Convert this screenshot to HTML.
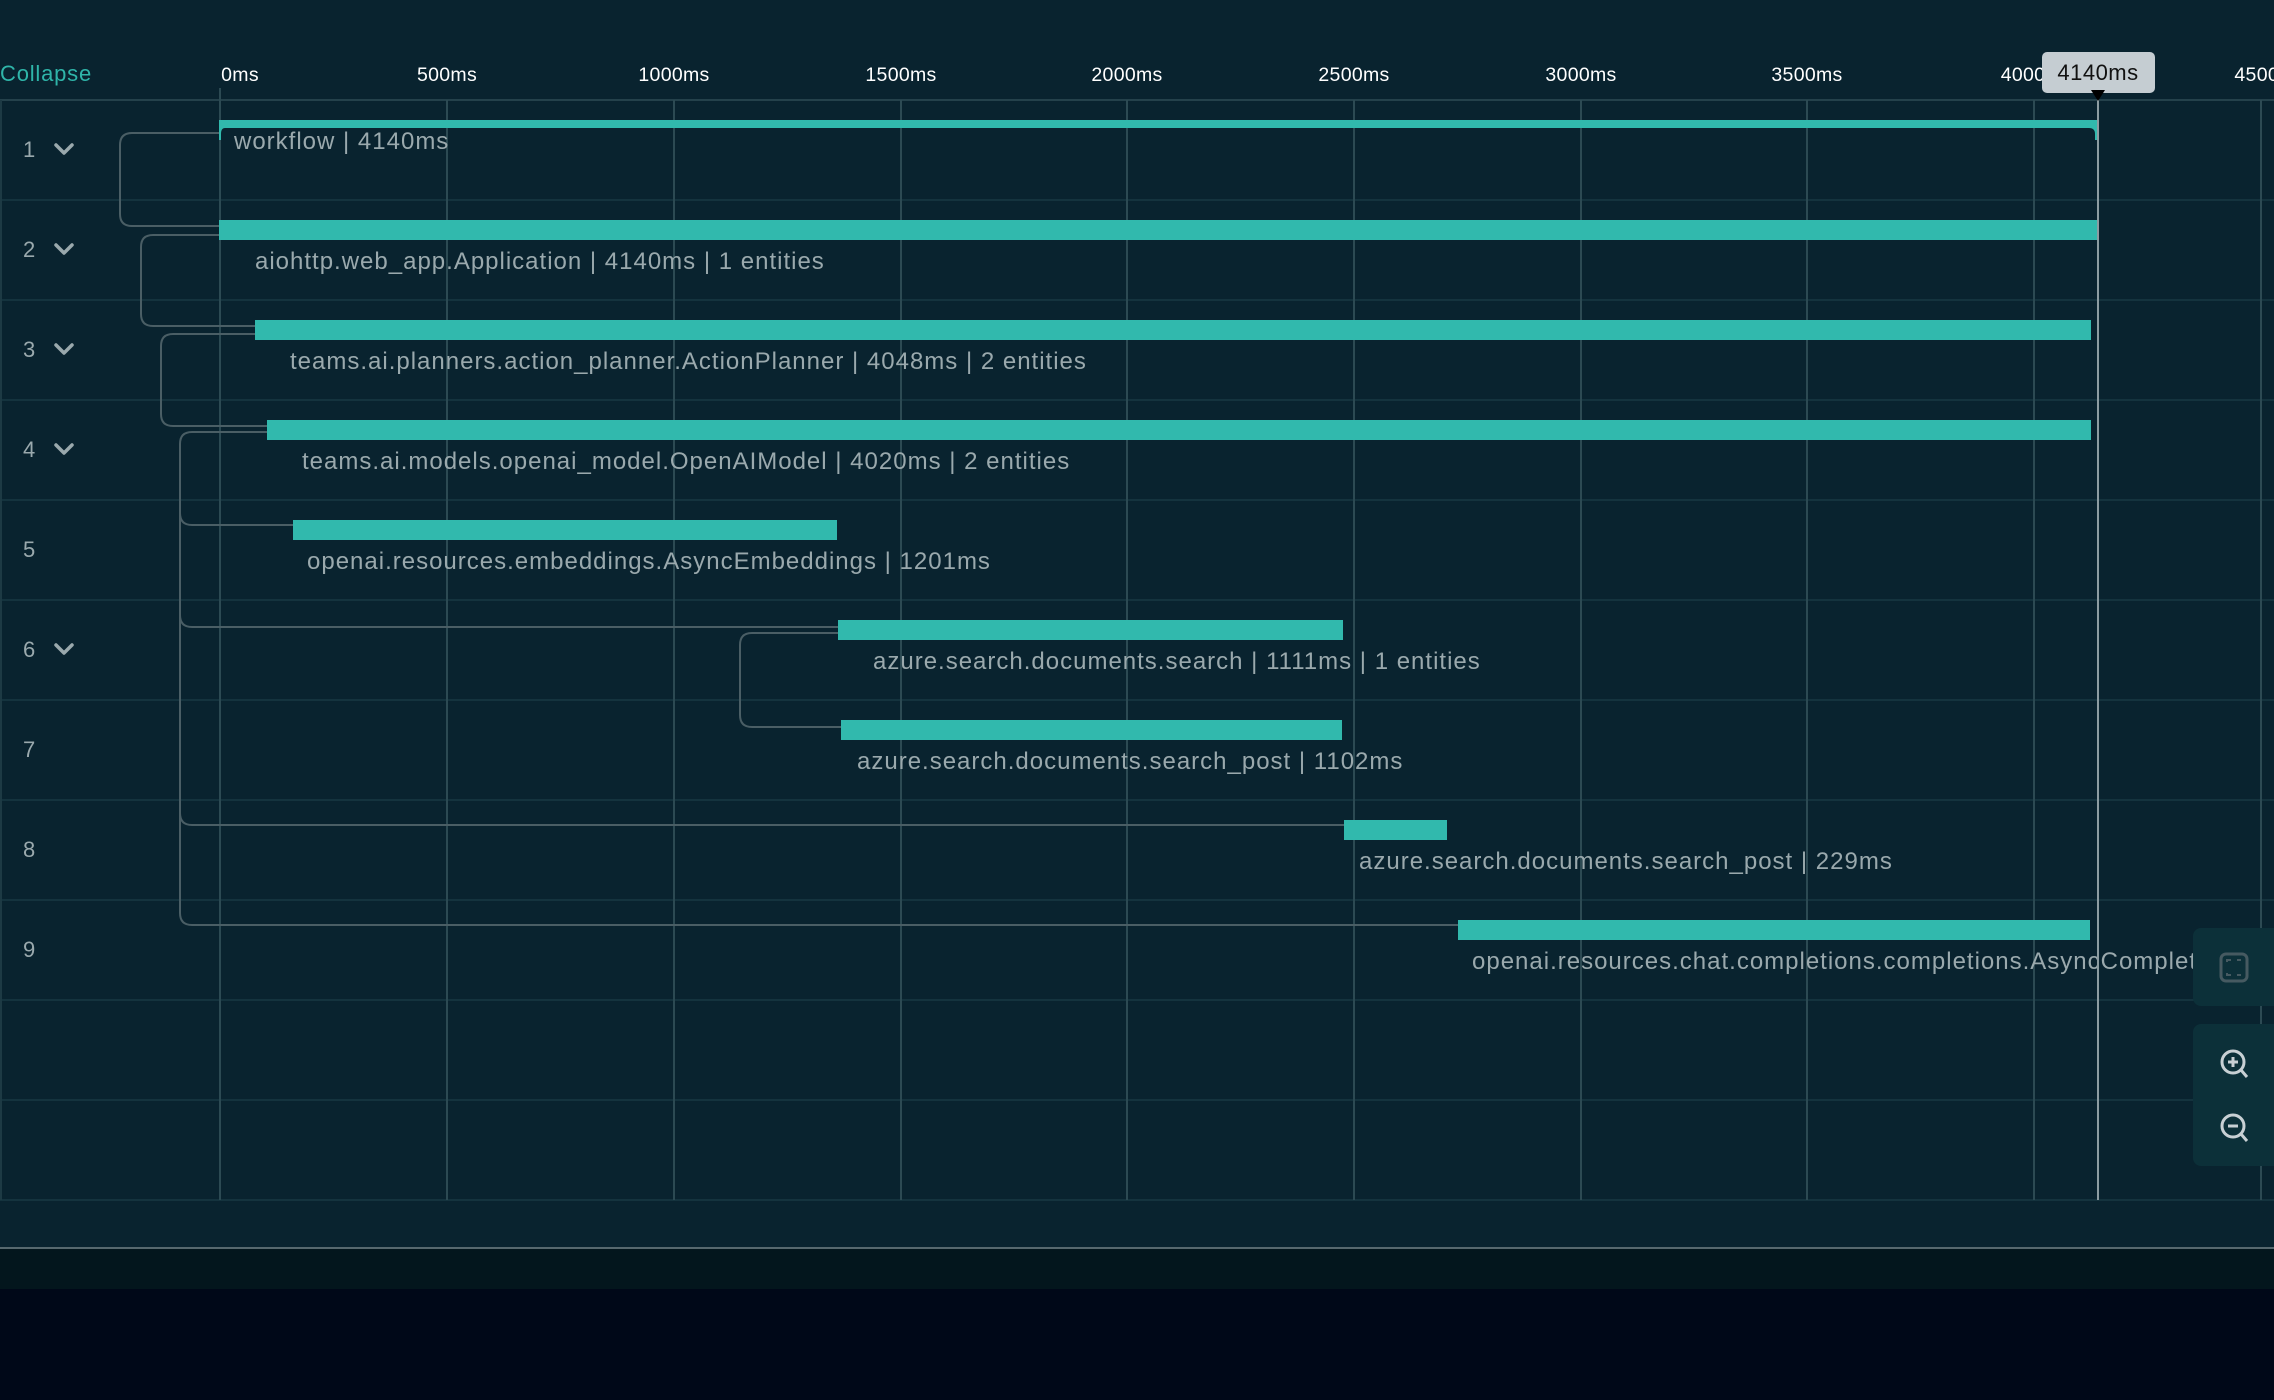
<!DOCTYPE html>
<html><head><meta charset="utf-8"><style>
html,body{margin:0;padding:0;background:#000818;}
svg{display:block;font-family:"Liberation Sans",sans-serif;}
</style></head><body>
<svg width="2274" height="1400" viewBox="0 0 2274 1400" xmlns="http://www.w3.org/2000/svg">
<defs><clipPath id="c"><rect x="0" y="0" width="2193" height="1400"/></clipPath></defs>
<rect x="0" y="0" width="2274" height="1247" fill="#09232f"/>
<rect x="0" y="1247" width="2274" height="2" fill="#56686e"/>
<rect x="0" y="1249" width="2274" height="40" fill="#03161d"/>
<rect x="0" y="1289" width="2274" height="111" fill="#000818"/>
<!-- header -->
<text x="0" y="81" fill="#2fb5a9" font-size="22" letter-spacing="0.8">Collapse</text>
<g fill="#ffffff" font-size="19.5" text-anchor="middle" letter-spacing="0.3">
<text x="240" y="81">0ms</text><text x="447" y="81">500ms</text><text x="674" y="81">1000ms</text>
<text x="901" y="81">1500ms</text><text x="1127" y="81">2000ms</text><text x="1354" y="81">2500ms</text>
<text x="1581" y="81">3000ms</text><text x="1807" y="81">3500ms</text><text x="2023" y="81">4000</text>
<text x="2270" y="81">4500ms</text>
</g>
<!-- row lines -->
<g stroke="#14333e" stroke-width="2">
<line x1="0" y1="100" x2="2274" y2="100" stroke="#24414b"/>
<line x1="0" y1="200" x2="2274" y2="200"/><line x1="0" y1="300" x2="2274" y2="300"/>
<line x1="0" y1="400" x2="2274" y2="400"/><line x1="0" y1="500" x2="2274" y2="500"/>
<line x1="0" y1="600" x2="2274" y2="600"/><line x1="0" y1="700" x2="2274" y2="700"/>
<line x1="0" y1="800" x2="2274" y2="800"/><line x1="0" y1="900" x2="2274" y2="900"/>
<line x1="0" y1="1000" x2="2274" y2="1000"/><line x1="0" y1="1100" x2="2274" y2="1100"/>
<line x1="0" y1="1200" x2="2274" y2="1200"/>
<line x1="1" y1="100" x2="1" y2="1200" stroke="#1d3a44"/>
</g>
<!-- grid -->
<g stroke="#2c4a53" stroke-width="2">
<line x1="220" y1="88" x2="220" y2="1200"/><line x1="447" y1="100" x2="447" y2="1200"/>
<line x1="674" y1="100" x2="674" y2="1200"/><line x1="901" y1="100" x2="901" y2="1200"/>
<line x1="1127" y1="100" x2="1127" y2="1200"/><line x1="1354" y1="100" x2="1354" y2="1200"/>
<line x1="1581" y1="100" x2="1581" y2="1200"/><line x1="1807" y1="100" x2="1807" y2="1200"/>
<line x1="2034" y1="100" x2="2034" y2="1200"/><line x1="2261" y1="100" x2="2261" y2="1200"/>
</g>
<!-- connectors -->
<g fill="none" stroke="#4a5e65" stroke-width="2">
<path d="M219 133 H132 Q120 133 120 145 V214 Q120 226 132 226 H219"/>
<path d="M219 235 H153 Q141 235 141 247 V314 Q141 326 153 326 H255"/>
<path d="M255 334 H173 Q161 334 161 346 V414 Q161 426 173 426 H267"/>
<path d="M267 432 H192 Q180 432 180 444 V913 Q180 925 192 925 H1458"/>
<path d="M180 513 Q180 525 192 525 H293"/>
<path d="M180 615 Q180 627 192 627 H838"/>
<path d="M180 813 Q180 825 192 825 H1344"/>
<path d="M838 633 H752 Q740 633 740 645 V715 Q740 727 752 727 H841"/>
</g>
<!-- bars -->
<g fill="#31b9ad">
<rect x="219" y="120" width="1878" height="8"/>
<path d="M219 128 h6 q-4 0 -4 6 v6 h-2z"/>
<path d="M2097 128 h-8 q6 0 6 6 v6 h2z"/>
<rect x="219" y="220" width="1878" height="20"/>
<rect x="255" y="320" width="1836" height="20"/>
<rect x="267" y="420" width="1824" height="20"/>
<rect x="293" y="520" width="544" height="20"/>
<rect x="838" y="620" width="505" height="20"/>
<rect x="841" y="720" width="501" height="20"/>
<rect x="1344" y="820" width="103" height="20"/>
<rect x="1458" y="920" width="632" height="20"/>
</g>
<!-- labels -->
<g fill="#9aa9ad" font-size="24" letter-spacing="1" clip-path="url(#c)">
<text x="234" y="149">workflow | 4140ms</text>
<text x="255" y="269">aiohttp.web_app.Application | 4140ms | 1 entities</text>
<text x="290" y="369">teams.ai.planners.action_planner.ActionPlanner | 4048ms | 2 entities</text>
<text x="302" y="469">teams.ai.models.openai_model.OpenAIModel | 4020ms | 2 entities</text>
<text x="307" y="569">openai.resources.embeddings.AsyncEmbeddings | 1201ms</text>
<text x="873" y="669">azure.search.documents.search | 1111ms | 1 entities</text>
<text x="857" y="769">azure.search.documents.search_post | 1102ms</text>
<text x="1359" y="869">azure.search.documents.search_post | 229ms</text>
<text x="1472" y="969">openai.resources.chat.completions.completions.AsyncCompletions | 2790ms</text>
</g>
<!-- row numbers -->
<g fill="#9aa9ad" font-size="22">
<text x="23" y="157">1</text><text x="23" y="257">2</text><text x="23" y="357">3</text>
<text x="23" y="457">4</text><text x="23" y="557">5</text><text x="23" y="657">6</text>
<text x="23" y="757">7</text><text x="23" y="857">8</text><text x="23" y="957">9</text>
</g>
<g fill="none" stroke="#9aa9ad" stroke-width="3.5" stroke-linecap="round" stroke-linejoin="round">
<path d="M56 145 l8 8 l8 -8"/><path d="M56 245 l8 8 l8 -8"/><path d="M56 345 l8 8 l8 -8"/>
<path d="M56 445 l8 8 l8 -8"/><path d="M56 645 l8 8 l8 -8"/>
</g>
<!-- cursor line + tooltip -->
<line x1="2098" y1="96" x2="2098" y2="1200" stroke="#8c9ca1" stroke-width="2"/>
<rect x="2042" y="52" width="113" height="41" rx="5" fill="#c5cdd2"/>
<text x="2098" y="80" text-anchor="middle" fill="#111" font-size="22" letter-spacing="0.5">4140ms</text>
<path d="M2091 90 h14 l-7 11z" fill="#000"/>
<!-- right controls -->
<rect x="2193" y="928" width="90" height="78" rx="8" fill="#0c3039"/>
<rect x="2221" y="954" width="26" height="27" rx="5" fill="none" stroke="#465a61" stroke-width="3"/>
<path d="M2227 962 v-2 h4 M2241 960 h-4 M2227 973 v2 h4 M2241 975 h-4" fill="none" stroke="#465a61" stroke-width="2"/>
<rect x="2193" y="1024" width="90" height="142" rx="8" fill="#0c3039"/>
<g fill="none" stroke="#c8d0d4" stroke-width="3">
<circle cx="2233" cy="1062" r="11"/><path d="M2241 1070 l6 7"/><path d="M2228 1062 h10 M2233 1057 v10"/>
<circle cx="2233" cy="1126" r="11"/><path d="M2241 1134 l6 7"/><path d="M2228 1126 h10"/>
</g>
</svg>
</body></html>
